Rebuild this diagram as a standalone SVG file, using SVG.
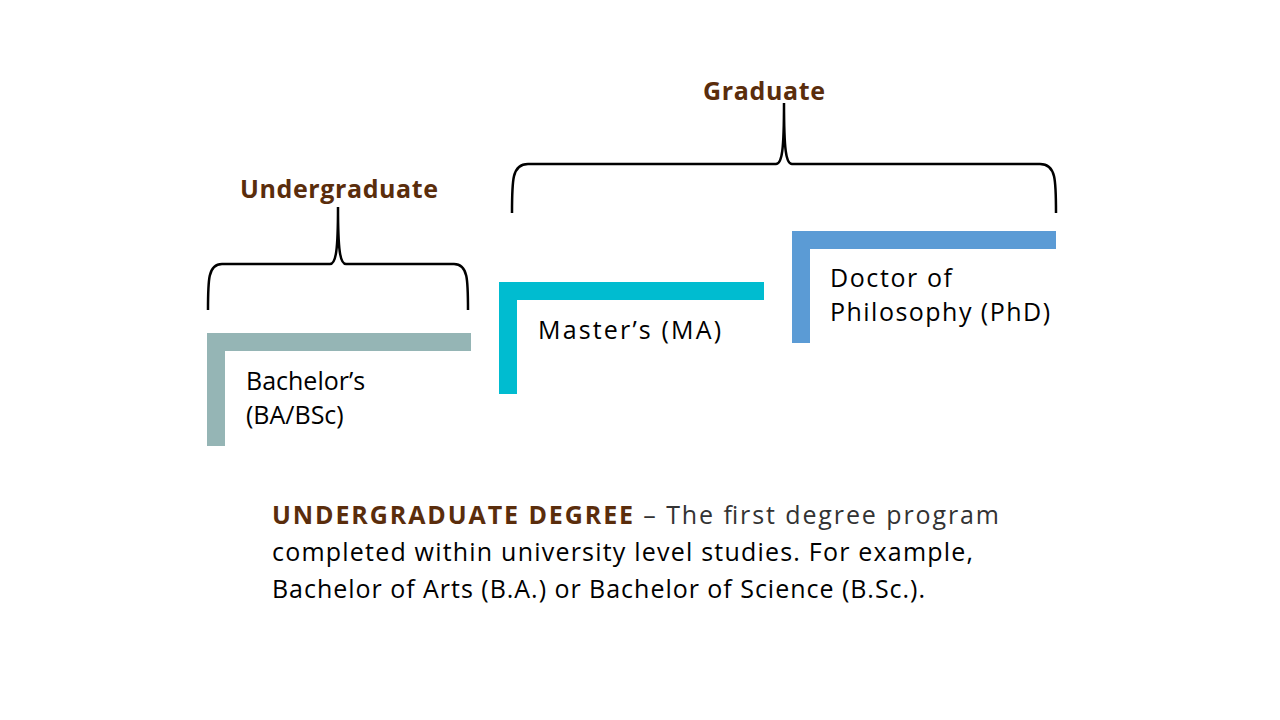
<svg xmlns="http://www.w3.org/2000/svg" width="1280" height="720" viewBox="0 0 1280 720">
<style>
.t{font-family:"Open Sans","Liberation Sans",sans-serif;font-size:25px;fill:#000}
.h{font-family:"Open Sans","Liberation Sans",sans-serif;font-size:25px;font-weight:bold;fill:#5a2d0c}
.b{fill:none;stroke:#000;stroke-width:2.5}
</style>
<rect width="1280" height="720" fill="#fff"/>
<g id="connectors">
<path class="b" d="M208,310 C208,280 208,264 222,264 L330,264 C336,264 338,250 338,207 C338,250 340,264 346,264 L454,264 C468,264 468,280 468,310"/>
<path class="b" d="M512,213 C512,180 512,164 528,164 L776,164 C782,164 784,150 784,103 C784,150 786,164 792,164 L1040,164 C1056,164 1056,180 1056,213"/>
</g>
<g id="undergraduate"><text class="h" x="339" y="198" text-anchor="middle" textLength="198">Undergraduate</text></g>
<g id="graduate"><text class="h" x="764" y="100" text-anchor="middle" textLength="122">Graduate</text></g>
<g id="bachelor">
<path d="M207,333 H471 V351 H225 V446 H207 Z" fill="#95b5b5"/>
<text class="t" x="246" y="390">Bachelor’s</text>
<text class="t" x="246" y="424">(BA/BSc)</text>
</g>
<g id="master">
<path d="M499,282 H764 V300 H517 V394 H499 Z" fill="#00bcd0"/>
<text class="t" x="538" y="339" textLength="183">Master’s (MA)</text>
</g>
<g id="phd">
<path d="M792,231 H1056 V249 H810 V343 H792 Z" fill="#5b9bd5"/>
<text class="t" x="830" y="287" textLength="122">Doctor of</text>
<text class="t" x="830" y="321" textLength="220">Philosophy (PhD)</text>
</g>
<g id="definition">
<text class="t" x="272" y="524" textLength="727"><tspan class="h" style="fill:#5a2d0c">UNDERGRADUATE DEGREE</tspan><tspan fill="#333"> – The first degree program</tspan></text>
<text class="t" x="272" y="561" textLength="701" fill="#333">completed within university level studies. For example,</text>
<text class="t" x="272" y="598" textLength="653" fill="#333">Bachelor of Arts (B.A.) or Bachelor of Science (B.Sc.).</text>
</g>
</svg>
